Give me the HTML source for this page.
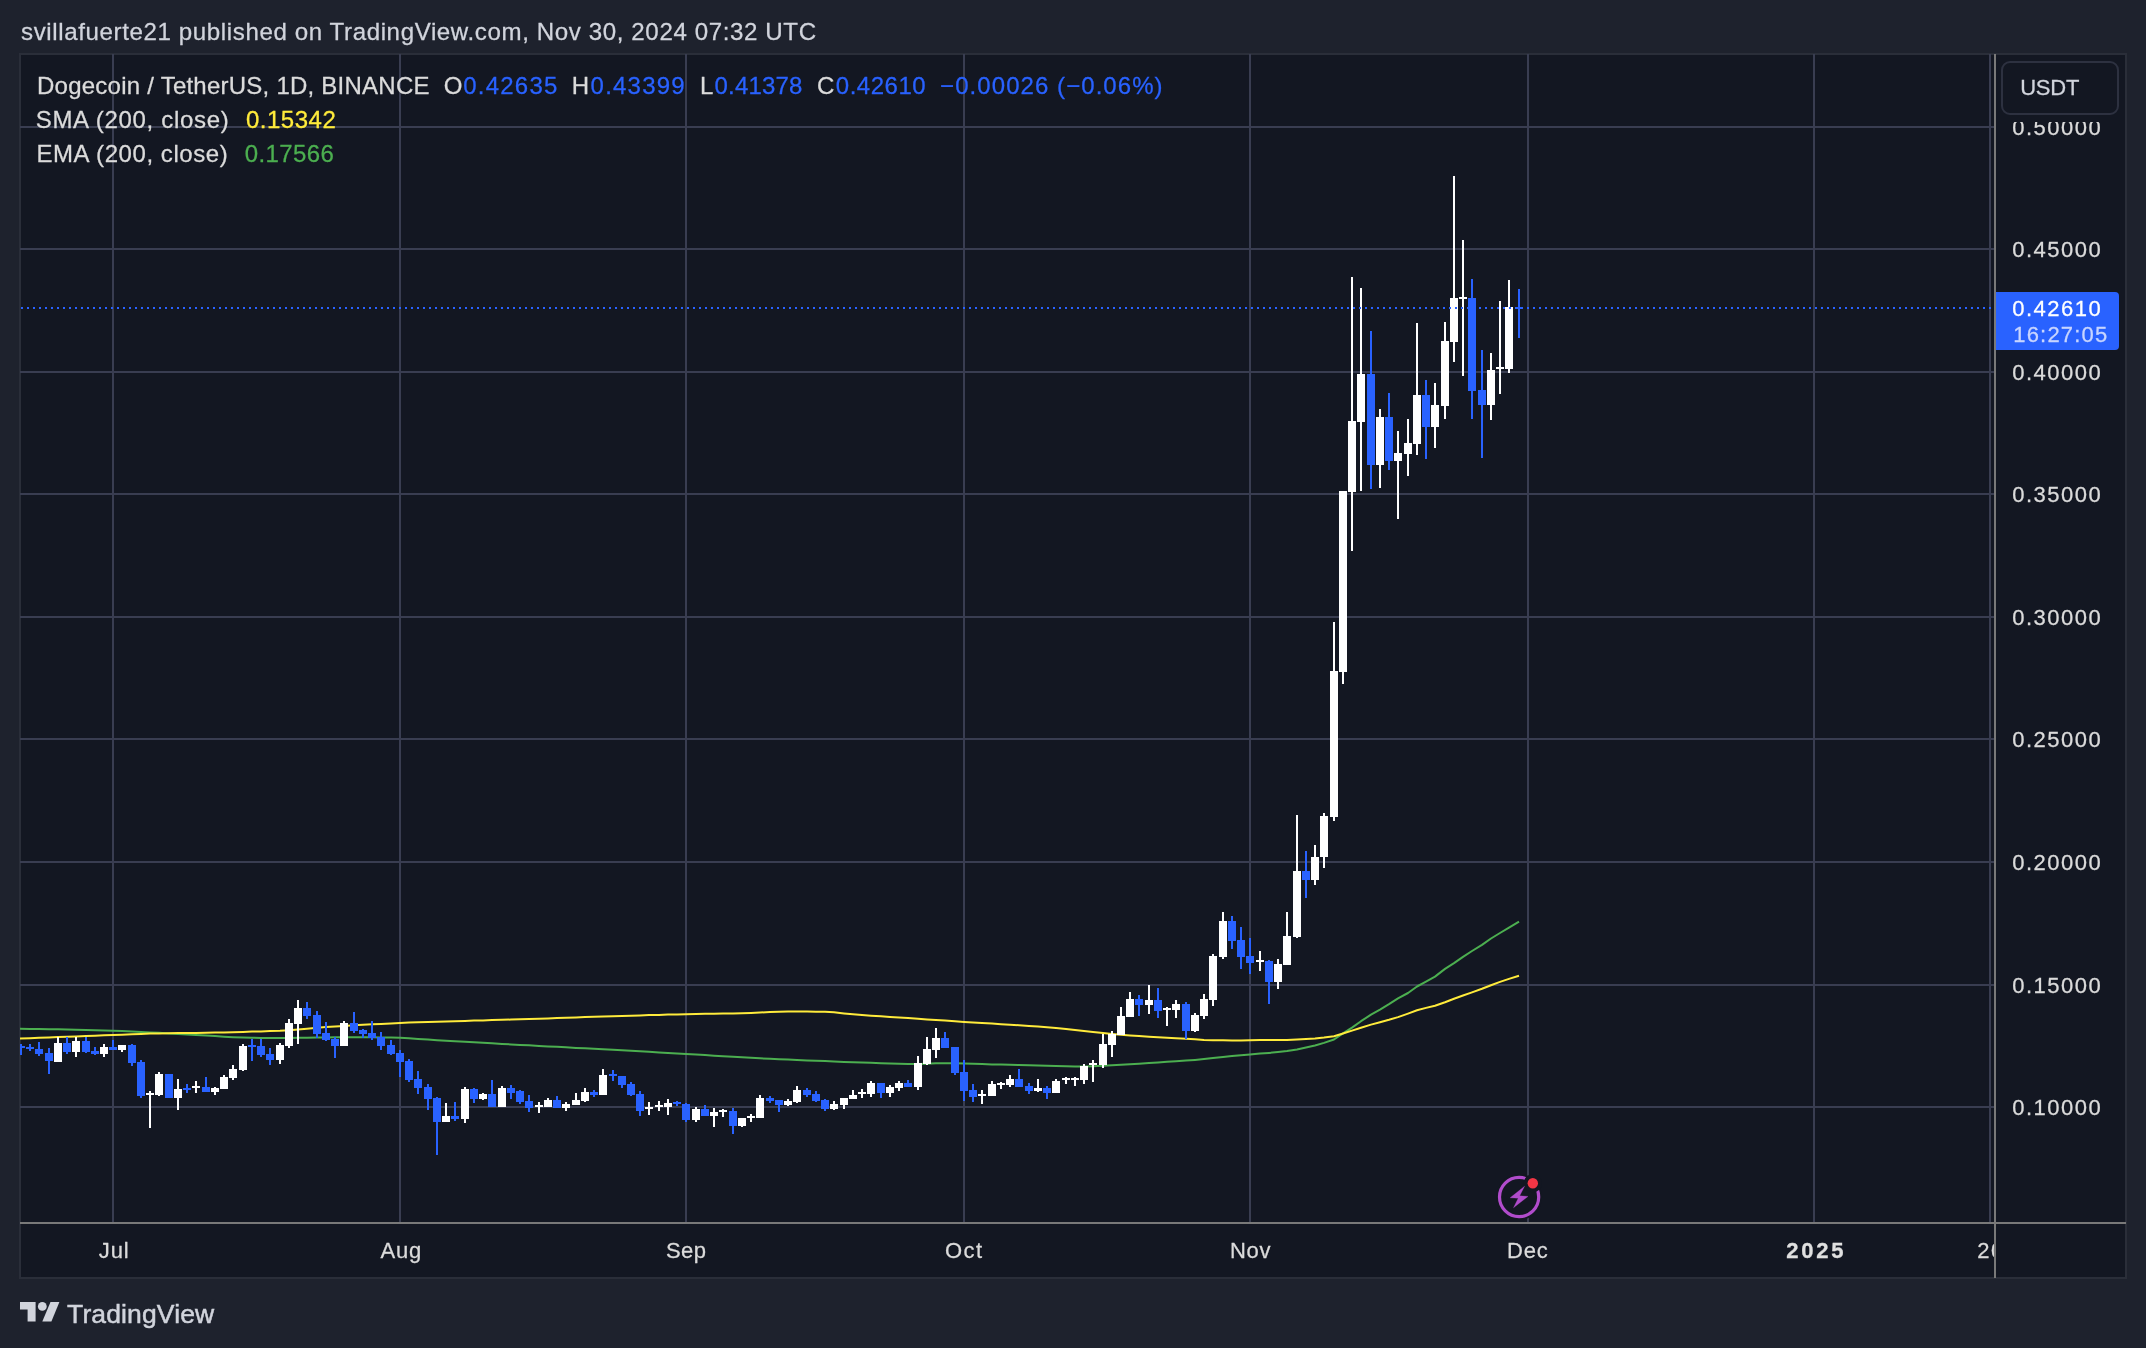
<!DOCTYPE html>
<html><head><meta charset="utf-8"><title>DOGEUSDT</title>
<style>
html,body{margin:0;padding:0;background:#1e222d;}
body{width:2146px;height:1348px;position:relative;overflow:hidden;font-family:"Liberation Sans",sans-serif;color:#d1d4dc;}
.abs{position:absolute;}
.t{position:absolute;white-space:nowrap;-webkit-text-stroke:0.28px currentColor;}
.tl{position:absolute;left:0;top:0;width:2146px;height:1348px;will-change:transform;}
#frame{left:19px;top:53px;width:2104px;height:1222px;border:2px solid #2a2e39;background:#131722;}
#chart{left:0;top:0;}
#usdtmask{left:1997px;top:55px;width:128px;height:66.6px;background:#131722;}
#usdt{left:2001px;top:61px;width:118px;height:54px;border:2px solid #2d3140;border-radius:9px;box-sizing:border-box;}
#ptag{left:1996px;top:292px;width:123px;height:58px;background:#2962ff;border-radius:0 4px 4px 0;}
</style></head><body>
<div class="abs" id="frame"></div>
<svg class="abs" id="chart" width="2146" height="1348" viewBox="0 0 2146 1348" shape-rendering="crispEdges">
<defs><clipPath id="cp"><rect x="20" y="54" width="1974" height="1168"/></clipPath></defs>
<g clip-path="url(#cp)">
<path fill="#393d51" d="M112 54h2v1168h-2zM399 54h2v1168h-2zM685 54h2v1168h-2zM963 54h2v1168h-2zM1249 54h2v1168h-2zM1527 54h2v1168h-2zM1813 54h2v1168h-2zM1989 54h2v1168h-2zM20 126h1974v2h-1974zM20 248h1974v2h-1974zM20 371h1974v2h-1974zM20 493h1974v2h-1974zM20 616h1974v2h-1974zM20 738h1974v2h-1974zM20 861h1974v2h-1974zM20 984h1974v2h-1974zM20 1106h1974v2h-1974z"/>
<path d="M20.0 1028.8 L30.0 1028.9 L39.0 1029.0 L49.0 1029.2 L58.0 1029.3 L67.0 1029.5 L76.0 1029.8 L86.0 1030.0 L95.0 1030.3 L104.0 1030.5 L113.0 1030.8 L122.0 1031.1 L132.0 1031.5 L141.0 1031.9 L150.0 1032.4 L159.0 1032.8 L169.0 1033.4 L178.0 1033.9 L187.0 1034.5 L196.0 1035.0 L206.0 1035.6 L215.0 1036.1 L224.0 1036.7 L233.0 1037.2 L243.0 1037.6 L252.0 1037.8 L261.0 1037.9 L270.0 1038.0 L280.0 1038.0 L289.0 1037.9 L298.0 1037.8 L307.0 1037.7 L317.0 1037.6 L326.0 1037.4 L335.0 1037.3 L344.0 1037.2 L354.0 1037.2 L363.0 1037.3 L372.0 1037.3 L381.0 1037.4 L391.0 1037.6 L400.0 1037.8 L409.0 1038.2 L418.0 1038.9 L428.0 1039.6 L437.0 1040.2 L446.0 1040.8 L455.0 1041.3 L465.0 1041.8 L474.0 1042.3 L483.0 1042.8 L492.0 1043.3 L502.0 1043.9 L511.0 1044.4 L520.0 1044.9 L529.0 1045.3 L539.0 1045.9 L548.0 1046.4 L557.0 1046.8 L566.0 1047.3 L576.0 1047.9 L585.0 1048.3 L594.0 1048.8 L603.0 1049.3 L613.0 1049.8 L622.0 1050.3 L631.0 1050.8 L640.0 1051.3 L649.0 1051.8 L659.0 1052.4 L668.0 1052.9 L677.0 1053.4 L686.0 1053.9 L696.0 1054.5 L705.0 1055.1 L714.0 1055.7 L723.0 1056.2 L733.0 1056.8 L742.0 1057.3 L751.0 1057.8 L760.0 1058.3 L770.0 1058.7 L779.0 1059.2 L788.0 1059.6 L797.0 1060.0 L807.0 1060.4 L816.0 1060.8 L825.0 1061.1 L834.0 1061.5 L844.0 1061.9 L853.0 1062.2 L862.0 1062.5 L871.0 1062.8 L881.0 1063.2 L890.0 1063.5 L899.0 1063.8 L908.0 1064.0 L918.0 1064.0 L927.0 1063.7 L936.0 1063.3 L945.0 1063.2 L955.0 1063.3 L964.0 1063.6 L973.0 1063.8 L982.0 1064.1 L992.0 1064.4 L1001.0 1064.6 L1010.0 1064.8 L1019.0 1065.0 L1029.0 1065.3 L1038.0 1065.5 L1047.0 1065.8 L1056.0 1066.0 L1066.0 1066.3 L1075.0 1066.5 L1084.0 1066.5 L1093.0 1066.2 L1103.0 1065.7 L1112.0 1065.3 L1121.0 1064.8 L1130.0 1064.3 L1139.0 1063.7 L1149.0 1063.0 L1158.0 1062.4 L1167.0 1061.8 L1176.0 1061.3 L1186.0 1060.6 L1195.0 1059.9 L1204.0 1059.0 L1213.0 1058.0 L1223.0 1057.0 L1232.0 1056.1 L1241.0 1055.3 L1250.0 1054.5 L1260.0 1053.6 L1269.0 1052.9 L1278.0 1052.1 L1287.0 1051.1 L1297.0 1049.4 L1306.0 1047.5 L1315.0 1045.5 L1324.0 1042.9 L1334.0 1039.5 L1343.0 1033.4 L1352.0 1027.6 L1361.0 1021.2 L1371.0 1014.7 L1380.0 1009.6 L1389.0 1004.2 L1398.0 998.4 L1408.0 993.0 L1417.0 986.5 L1426.0 981.6 L1435.0 976.6 L1445.0 968.9 L1454.0 963.1 L1463.0 956.9 L1472.0 951.0 L1482.0 944.9 L1491.0 938.5 L1500.0 933.0 L1509.0 927.6 L1519.0 921.6" stroke="#4caf50" stroke-width="2" fill="none" stroke-linejoin="round" stroke-linecap="butt" shape-rendering="geometricPrecision"/>
<path d="M20.0 1038.6 L30.0 1038.2 L39.0 1037.8 L49.0 1037.4 L58.0 1037.1 L67.0 1036.7 L76.0 1036.4 L86.0 1036.0 L95.0 1035.7 L104.0 1035.3 L113.0 1035.0 L122.0 1034.7 L132.0 1034.2 L141.0 1033.9 L150.0 1033.6 L159.0 1033.4 L169.0 1033.2 L178.0 1033.1 L187.0 1033.0 L196.0 1032.9 L206.0 1032.8 L215.0 1032.6 L224.0 1032.4 L233.0 1032.2 L243.0 1031.9 L252.0 1031.6 L261.0 1031.4 L270.0 1031.1 L280.0 1030.8 L289.0 1030.3 L298.0 1029.5 L307.0 1028.7 L317.0 1027.8 L326.0 1027.1 L335.0 1026.5 L344.0 1026.0 L354.0 1025.3 L363.0 1024.8 L372.0 1024.3 L381.0 1023.9 L391.0 1023.4 L400.0 1023.0 L409.0 1022.6 L418.0 1022.3 L428.0 1022.0 L437.0 1021.7 L446.0 1021.4 L455.0 1021.2 L465.0 1020.9 L474.0 1020.6 L483.0 1020.4 L492.0 1020.1 L502.0 1019.8 L511.0 1019.6 L520.0 1019.3 L529.0 1019.0 L539.0 1018.7 L548.0 1018.4 L557.0 1018.1 L566.0 1017.8 L576.0 1017.4 L585.0 1017.1 L594.0 1016.8 L603.0 1016.5 L613.0 1016.2 L622.0 1015.9 L631.0 1015.7 L640.0 1015.4 L649.0 1015.1 L659.0 1014.9 L668.0 1014.6 L677.0 1014.4 L686.0 1014.2 L696.0 1014.0 L705.0 1013.8 L714.0 1013.7 L723.0 1013.5 L733.0 1013.4 L742.0 1013.2 L751.0 1012.9 L760.0 1012.5 L770.0 1012.1 L779.0 1011.8 L788.0 1011.6 L797.0 1011.6 L807.0 1011.6 L816.0 1011.7 L825.0 1011.8 L834.0 1012.3 L844.0 1013.4 L853.0 1014.3 L862.0 1015.0 L871.0 1015.7 L881.0 1016.3 L890.0 1016.9 L899.0 1017.5 L908.0 1018.1 L918.0 1018.8 L927.0 1019.4 L936.0 1020.0 L945.0 1020.6 L955.0 1021.3 L964.0 1021.9 L973.0 1022.5 L982.0 1023.0 L992.0 1023.6 L1001.0 1024.2 L1010.0 1024.7 L1019.0 1025.2 L1029.0 1025.9 L1038.0 1026.5 L1047.0 1027.2 L1056.0 1028.1 L1066.0 1029.1 L1075.0 1030.1 L1084.0 1031.0 L1093.0 1031.9 L1103.0 1033.0 L1112.0 1033.9 L1121.0 1034.8 L1130.0 1035.5 L1139.0 1036.1 L1149.0 1036.7 L1158.0 1037.2 L1167.0 1037.7 L1176.0 1038.2 L1186.0 1038.7 L1195.0 1039.3 L1204.0 1039.9 L1213.0 1040.2 L1223.0 1040.3 L1232.0 1040.4 L1241.0 1040.4 L1250.0 1040.3 L1260.0 1040.1 L1269.0 1039.9 L1278.0 1039.9 L1287.0 1040.0 L1297.0 1039.5 L1306.0 1038.9 L1315.0 1038.4 L1324.0 1037.6 L1334.0 1036.3 L1343.0 1033.5 L1352.0 1030.6 L1361.0 1027.7 L1371.0 1024.6 L1380.0 1022.2 L1389.0 1019.8 L1398.0 1017.1 L1408.0 1013.6 L1417.0 1010.3 L1426.0 1007.9 L1435.0 1005.7 L1445.0 1002.2 L1454.0 998.7 L1463.0 995.5 L1472.0 992.4 L1482.0 988.8 L1491.0 985.2 L1500.0 981.9 L1509.0 978.9 L1519.0 975.7" stroke="#ffeb3b" stroke-width="2" fill="none" stroke-linejoin="round" stroke-linecap="butt" shape-rendering="geometricPrecision"/>
<path fill="#ffffff" d="M57 1037h2v25h-2zM54 1043h8v19h-8zM75 1037h2v20h-2zM72 1041h8v11h-8zM103 1044h2v13h-2zM100 1047h8v7h-8zM121 1045h2v7h-2zM118 1045h8v5h-8zM149 1091h2v37h-2zM146 1093h8v2h-8zM158 1072h2v24h-2zM155 1074h8v21h-8zM177 1079h2v31h-2zM174 1089h8v9h-8zM195 1081h2v12h-2zM192 1086h8v2h-8zM214 1087h2v8h-2zM211 1088h8v4h-8zM223 1075h2v14h-2zM220 1077h8v12h-8zM232 1065h2v15h-2zM229 1069h8v9h-8zM242 1044h2v27h-2zM239 1046h8v24h-8zM279 1043h2v21h-2zM276 1045h8v15h-8zM288 1019h2v29h-2zM285 1023h8v23h-8zM297 1000h2v44h-2zM294 1008h8v16h-8zM343 1021h2v25h-2zM340 1023h8v23h-8zM445 1103h2v19h-2zM442 1116h8v6h-8zM464 1087h2v36h-2zM461 1089h8v30h-8zM482 1093h2v7h-2zM479 1094h8v5h-8zM501 1086h2v21h-2zM498 1088h8v19h-8zM538 1102h2v11h-2zM535 1105h8v2h-8zM547 1098h2v9h-2zM544 1100h8v7h-8zM565 1102h2v9h-2zM562 1104h8v4h-8zM575 1093h2v12h-2zM572 1100h8v5h-8zM584 1088h2v14h-2zM581 1092h8v9h-8zM602 1069h2v26h-2zM599 1075h8v20h-8zM648 1102h2v13h-2zM645 1107h8v2h-8zM658 1101h2v10h-2zM655 1105h8v2h-8zM667 1099h2v16h-2zM664 1103h8v4h-8zM695 1107h2v15h-2zM692 1109h8v11h-8zM713 1108h2v19h-2zM710 1112h8v4h-8zM722 1109h2v8h-2zM719 1110h8v2h-8zM741 1118h2v9h-2zM738 1118h8v8h-8zM750 1114h2v8h-2zM747 1116h8v2h-8zM759 1095h2v23h-2zM756 1098h8v20h-8zM787 1099h2v7h-2zM784 1101h8v4h-8zM796 1086h2v17h-2zM793 1090h8v12h-8zM833 1101h2v9h-2zM830 1104h8v5h-8zM843 1098h2v11h-2zM840 1098h8v7h-8zM852 1090h2v9h-2zM849 1095h8v4h-8zM861 1089h2v9h-2zM858 1092h8v2h-8zM870 1081h2v16h-2zM867 1083h8v11h-8zM889 1085h2v12h-2zM886 1087h8v6h-8zM898 1081h2v10h-2zM895 1083h8v5h-8zM917 1056h2v34h-2zM914 1063h8v24h-8zM926 1037h2v28h-2zM923 1049h8v15h-8zM935 1028h2v30h-2zM932 1038h8v12h-8zM981 1090h2v14h-2zM978 1094h8v2h-8zM991 1081h2v15h-2zM988 1084h8v12h-8zM1000 1082h2v7h-2zM997 1083h8v2h-8zM1009 1075h2v12h-2zM1006 1079h8v6h-8zM1037 1079h2v13h-2zM1034 1088h8v3h-8zM1055 1079h2v14h-2zM1052 1081h8v12h-8zM1065 1077h2v7h-2zM1062 1078h8v2h-8zM1074 1077h2v9h-2zM1071 1078h8v2h-8zM1083 1064h2v20h-2zM1080 1066h8v14h-8zM1092 1060h2v22h-2zM1089 1063h8v2h-8zM1102 1034h2v34h-2zM1099 1044h8v21h-8zM1111 1031h2v26h-2zM1108 1034h8v11h-8zM1120 1007h2v28h-2zM1117 1016h8v19h-8zM1129 992h2v25h-2zM1126 999h8v18h-8zM1148 985h2v29h-2zM1145 1000h8v5h-8zM1166 1007h2v19h-2zM1163 1008h8v2h-8zM1175 1000h2v18h-2zM1172 1004h8v6h-8zM1194 1013h2v19h-2zM1191 1015h8v16h-8zM1203 994h2v25h-2zM1200 999h8v17h-8zM1212 954h2v52h-2zM1209 956h8v44h-8zM1222 912h2v47h-2zM1219 921h8v36h-8zM1259 951h2v20h-2zM1256 960h8v2h-8zM1277 959h2v30h-2zM1274 964h8v18h-8zM1286 912h2v53h-2zM1283 936h8v29h-8zM1296 815h2v123h-2zM1293 871h8v66h-8zM1314 845h2v40h-2zM1311 857h8v23h-8zM1323 813h2v55h-2zM1320 816h8v41h-8zM1333 622h2v199h-2zM1330 671h8v146h-8zM1342 491h2v193h-2zM1339 491h8v181h-8zM1351 277h2v274h-2zM1348 421h8v71h-8zM1360 288h2v203h-2zM1357 374h8v48h-8zM1379 409h2v79h-2zM1376 417h8v48h-8zM1397 431h2v88h-2zM1394 453h8v8h-8zM1407 419h2v57h-2zM1404 443h8v11h-8zM1416 323h2v132h-2zM1413 395h8v49h-8zM1434 383h2v65h-2zM1431 405h8v22h-8zM1444 322h2v97h-2zM1441 341h8v65h-8zM1453 176h2v186h-2zM1450 298h8v44h-8zM1462 240h2v136h-2zM1459 297h8v2h-8zM1490 353h2v67h-2zM1487 370h8v35h-8zM1499 301h2v93h-2zM1496 367h8v2h-8zM1508 280h2v93h-2zM1505 307h8v62h-8z"/>
<path fill="#2962ff" d="M20 1044h2v11h-2zM17 1046h8v2h-8zM29 1044h2v7h-2zM26 1047h8v2h-8zM38 1042h2v14h-2zM35 1049h8v5h-8zM48 1048h2v26h-2zM45 1053h8v8h-8zM66 1037h2v17h-2zM63 1043h8v9h-8zM85 1037h2v16h-2zM82 1041h8v11h-8zM94 1047h2v8h-2zM91 1051h8v3h-8zM112 1040h2v10h-2zM109 1047h8v3h-8zM131 1044h2v22h-2zM128 1045h8v18h-8zM140 1060h2v38h-2zM137 1062h8v34h-8zM168 1074h2v24h-2zM165 1074h8v24h-8zM186 1084h2v9h-2zM183 1088h8v2h-8zM205 1077h2v15h-2zM202 1087h8v5h-8zM251 1039h2v22h-2zM248 1045h8v2h-8zM260 1039h2v18h-2zM257 1046h8v9h-8zM269 1048h2v17h-2zM266 1054h8v6h-8zM306 1002h2v17h-2zM303 1008h8v8h-8zM316 1011h2v27h-2zM313 1015h8v19h-8zM325 1022h2v19h-2zM322 1033h8v7h-8zM334 1037h2v21h-2zM331 1039h8v7h-8zM353 1012h2v21h-2zM350 1023h8v8h-8zM362 1029h2v9h-2zM359 1030h8v4h-8zM371 1021h2v19h-2zM368 1033h8v5h-8zM380 1032h2v18h-2zM377 1037h8v9h-8zM390 1040h2v15h-2zM387 1045h8v9h-8zM399 1050h2v27h-2zM396 1053h8v9h-8zM408 1059h2v23h-2zM405 1061h8v19h-8zM417 1071h2v23h-2zM414 1079h8v9h-8zM427 1084h2v26h-2zM424 1087h8v12h-8zM436 1097h2v58h-2zM433 1098h8v24h-8zM454 1102h2v19h-2zM451 1116h8v3h-8zM473 1088h2v15h-2zM470 1089h8v10h-8zM491 1080h2v27h-2zM488 1094h8v13h-8zM510 1085h2v14h-2zM507 1088h8v5h-8zM519 1090h2v14h-2zM516 1091h8v11h-8zM528 1095h2v17h-2zM525 1101h8v7h-8zM556 1096h2v12h-2zM553 1100h8v8h-8zM593 1090h2v7h-2zM590 1092h8v3h-8zM612 1070h2v11h-2zM609 1074h8v2h-8zM621 1076h2v12h-2zM618 1076h8v9h-8zM630 1082h2v14h-2zM627 1084h8v11h-8zM639 1091h2v25h-2zM636 1094h8v17h-8zM676 1101h2v5h-2zM673 1102h8v2h-8zM685 1103h2v19h-2zM682 1104h8v16h-8zM704 1105h2v11h-2zM701 1109h8v7h-8zM732 1108h2v26h-2zM729 1111h8v15h-8zM769 1096h2v7h-2zM766 1098h8v3h-8zM778 1100h2v12h-2zM775 1100h8v5h-8zM806 1088h2v9h-2zM803 1090h8v5h-8zM815 1091h2v11h-2zM812 1094h8v7h-8zM824 1099h2v12h-2zM821 1100h8v9h-8zM880 1083h2v15h-2zM877 1083h8v10h-8zM907 1080h2v7h-2zM904 1083h8v4h-8zM944 1032h2v16h-2zM941 1038h8v10h-8zM954 1047h2v28h-2zM951 1047h8v26h-8zM963 1060h2v41h-2zM960 1072h8v19h-8zM972 1084h2v18h-2zM969 1090h8v7h-8zM1018 1069h2v18h-2zM1015 1079h8v8h-8zM1028 1083h2v11h-2zM1025 1086h8v5h-8zM1046 1086h2v13h-2zM1043 1088h8v5h-8zM1138 995h2v21h-2zM1135 999h8v6h-8zM1157 988h2v30h-2zM1154 1000h8v11h-8zM1185 1002h2v37h-2zM1182 1004h8v27h-8zM1231 916h2v33h-2zM1228 921h8v20h-8zM1240 927h2v42h-2zM1237 940h8v17h-8zM1249 938h2v36h-2zM1246 956h8v7h-8zM1268 960h2v44h-2zM1265 961h8v21h-8zM1305 851h2v47h-2zM1302 871h8v9h-8zM1370 331h2v158h-2zM1367 374h8v91h-8zM1388 393h2v77h-2zM1385 417h8v44h-8zM1425 380h2v79h-2zM1422 395h8v32h-8zM1471 279h2v140h-2zM1468 298h8v93h-8zM1481 350h2v108h-2zM1478 390h8v15h-8zM1518 289h2v49h-2zM1515 307h8v2h-8z"/>
<path fill="#2962ff" d="M21 307h2v2h-2zM27 307h2v2h-2zM33 307h2v2h-2zM39 307h2v2h-2zM45 307h2v2h-2zM51 307h2v2h-2zM57 307h2v2h-2zM63 307h2v2h-2zM69 307h2v2h-2zM75 307h2v2h-2zM81 307h2v2h-2zM87 307h2v2h-2zM93 307h2v2h-2zM99 307h2v2h-2zM105 307h2v2h-2zM111 307h2v2h-2zM117 307h2v2h-2zM123 307h2v2h-2zM129 307h2v2h-2zM135 307h2v2h-2zM141 307h2v2h-2zM147 307h2v2h-2zM153 307h2v2h-2zM159 307h2v2h-2zM165 307h2v2h-2zM171 307h2v2h-2zM177 307h2v2h-2zM183 307h2v2h-2zM189 307h2v2h-2zM195 307h2v2h-2zM201 307h2v2h-2zM207 307h2v2h-2zM213 307h2v2h-2zM219 307h2v2h-2zM225 307h2v2h-2zM231 307h2v2h-2zM237 307h2v2h-2zM243 307h2v2h-2zM249 307h2v2h-2zM255 307h2v2h-2zM261 307h2v2h-2zM267 307h2v2h-2zM273 307h2v2h-2zM279 307h2v2h-2zM285 307h2v2h-2zM291 307h2v2h-2zM297 307h2v2h-2zM303 307h2v2h-2zM309 307h2v2h-2zM315 307h2v2h-2zM321 307h2v2h-2zM327 307h2v2h-2zM333 307h2v2h-2zM339 307h2v2h-2zM345 307h2v2h-2zM351 307h2v2h-2zM357 307h2v2h-2zM363 307h2v2h-2zM369 307h2v2h-2zM375 307h2v2h-2zM381 307h2v2h-2zM387 307h2v2h-2zM393 307h2v2h-2zM399 307h2v2h-2zM405 307h2v2h-2zM411 307h2v2h-2zM417 307h2v2h-2zM423 307h2v2h-2zM429 307h2v2h-2zM435 307h2v2h-2zM441 307h2v2h-2zM447 307h2v2h-2zM453 307h2v2h-2zM459 307h2v2h-2zM465 307h2v2h-2zM471 307h2v2h-2zM477 307h2v2h-2zM483 307h2v2h-2zM489 307h2v2h-2zM495 307h2v2h-2zM501 307h2v2h-2zM507 307h2v2h-2zM513 307h2v2h-2zM519 307h2v2h-2zM525 307h2v2h-2zM531 307h2v2h-2zM537 307h2v2h-2zM543 307h2v2h-2zM549 307h2v2h-2zM555 307h2v2h-2zM561 307h2v2h-2zM567 307h2v2h-2zM573 307h2v2h-2zM579 307h2v2h-2zM585 307h2v2h-2zM591 307h2v2h-2zM597 307h2v2h-2zM603 307h2v2h-2zM609 307h2v2h-2zM615 307h2v2h-2zM621 307h2v2h-2zM627 307h2v2h-2zM633 307h2v2h-2zM639 307h2v2h-2zM645 307h2v2h-2zM651 307h2v2h-2zM657 307h2v2h-2zM663 307h2v2h-2zM669 307h2v2h-2zM675 307h2v2h-2zM681 307h2v2h-2zM687 307h2v2h-2zM693 307h2v2h-2zM699 307h2v2h-2zM705 307h2v2h-2zM711 307h2v2h-2zM717 307h2v2h-2zM723 307h2v2h-2zM729 307h2v2h-2zM735 307h2v2h-2zM741 307h2v2h-2zM747 307h2v2h-2zM753 307h2v2h-2zM759 307h2v2h-2zM765 307h2v2h-2zM771 307h2v2h-2zM777 307h2v2h-2zM783 307h2v2h-2zM789 307h2v2h-2zM795 307h2v2h-2zM801 307h2v2h-2zM807 307h2v2h-2zM813 307h2v2h-2zM819 307h2v2h-2zM825 307h2v2h-2zM831 307h2v2h-2zM837 307h2v2h-2zM843 307h2v2h-2zM849 307h2v2h-2zM855 307h2v2h-2zM861 307h2v2h-2zM867 307h2v2h-2zM873 307h2v2h-2zM879 307h2v2h-2zM885 307h2v2h-2zM891 307h2v2h-2zM897 307h2v2h-2zM903 307h2v2h-2zM909 307h2v2h-2zM915 307h2v2h-2zM921 307h2v2h-2zM927 307h2v2h-2zM933 307h2v2h-2zM939 307h2v2h-2zM945 307h2v2h-2zM951 307h2v2h-2zM957 307h2v2h-2zM963 307h2v2h-2zM969 307h2v2h-2zM975 307h2v2h-2zM981 307h2v2h-2zM987 307h2v2h-2zM993 307h2v2h-2zM999 307h2v2h-2zM1005 307h2v2h-2zM1011 307h2v2h-2zM1017 307h2v2h-2zM1023 307h2v2h-2zM1029 307h2v2h-2zM1035 307h2v2h-2zM1041 307h2v2h-2zM1047 307h2v2h-2zM1053 307h2v2h-2zM1059 307h2v2h-2zM1065 307h2v2h-2zM1071 307h2v2h-2zM1077 307h2v2h-2zM1083 307h2v2h-2zM1089 307h2v2h-2zM1095 307h2v2h-2zM1101 307h2v2h-2zM1107 307h2v2h-2zM1113 307h2v2h-2zM1119 307h2v2h-2zM1125 307h2v2h-2zM1131 307h2v2h-2zM1137 307h2v2h-2zM1143 307h2v2h-2zM1149 307h2v2h-2zM1155 307h2v2h-2zM1161 307h2v2h-2zM1167 307h2v2h-2zM1173 307h2v2h-2zM1179 307h2v2h-2zM1185 307h2v2h-2zM1191 307h2v2h-2zM1197 307h2v2h-2zM1203 307h2v2h-2zM1209 307h2v2h-2zM1215 307h2v2h-2zM1221 307h2v2h-2zM1227 307h2v2h-2zM1233 307h2v2h-2zM1239 307h2v2h-2zM1245 307h2v2h-2zM1251 307h2v2h-2zM1257 307h2v2h-2zM1263 307h2v2h-2zM1269 307h2v2h-2zM1275 307h2v2h-2zM1281 307h2v2h-2zM1287 307h2v2h-2zM1293 307h2v2h-2zM1299 307h2v2h-2zM1305 307h2v2h-2zM1311 307h2v2h-2zM1317 307h2v2h-2zM1323 307h2v2h-2zM1329 307h2v2h-2zM1335 307h2v2h-2zM1341 307h2v2h-2zM1347 307h2v2h-2zM1353 307h2v2h-2zM1359 307h2v2h-2zM1365 307h2v2h-2zM1371 307h2v2h-2zM1377 307h2v2h-2zM1383 307h2v2h-2zM1389 307h2v2h-2zM1395 307h2v2h-2zM1401 307h2v2h-2zM1407 307h2v2h-2zM1413 307h2v2h-2zM1419 307h2v2h-2zM1425 307h2v2h-2zM1431 307h2v2h-2zM1437 307h2v2h-2zM1443 307h2v2h-2zM1449 307h2v2h-2zM1455 307h2v2h-2zM1461 307h2v2h-2zM1467 307h2v2h-2zM1473 307h2v2h-2zM1479 307h2v2h-2zM1485 307h2v2h-2zM1491 307h2v2h-2zM1497 307h2v2h-2zM1503 307h2v2h-2zM1509 307h2v2h-2zM1515 307h2v2h-2zM1521 307h2v2h-2zM1527 307h2v2h-2zM1533 307h2v2h-2zM1539 307h2v2h-2zM1545 307h2v2h-2zM1551 307h2v2h-2zM1557 307h2v2h-2zM1563 307h2v2h-2zM1569 307h2v2h-2zM1575 307h2v2h-2zM1581 307h2v2h-2zM1587 307h2v2h-2zM1593 307h2v2h-2zM1599 307h2v2h-2zM1605 307h2v2h-2zM1611 307h2v2h-2zM1617 307h2v2h-2zM1623 307h2v2h-2zM1629 307h2v2h-2zM1635 307h2v2h-2zM1641 307h2v2h-2zM1647 307h2v2h-2zM1653 307h2v2h-2zM1659 307h2v2h-2zM1665 307h2v2h-2zM1671 307h2v2h-2zM1677 307h2v2h-2zM1683 307h2v2h-2zM1689 307h2v2h-2zM1695 307h2v2h-2zM1701 307h2v2h-2zM1707 307h2v2h-2zM1713 307h2v2h-2zM1719 307h2v2h-2zM1725 307h2v2h-2zM1731 307h2v2h-2zM1737 307h2v2h-2zM1743 307h2v2h-2zM1749 307h2v2h-2zM1755 307h2v2h-2zM1761 307h2v2h-2zM1767 307h2v2h-2zM1773 307h2v2h-2zM1779 307h2v2h-2zM1785 307h2v2h-2zM1791 307h2v2h-2zM1797 307h2v2h-2zM1803 307h2v2h-2zM1809 307h2v2h-2zM1815 307h2v2h-2zM1821 307h2v2h-2zM1827 307h2v2h-2zM1833 307h2v2h-2zM1839 307h2v2h-2zM1845 307h2v2h-2zM1851 307h2v2h-2zM1857 307h2v2h-2zM1863 307h2v2h-2zM1869 307h2v2h-2zM1875 307h2v2h-2zM1881 307h2v2h-2zM1887 307h2v2h-2zM1893 307h2v2h-2zM1899 307h2v2h-2zM1905 307h2v2h-2zM1911 307h2v2h-2zM1917 307h2v2h-2zM1923 307h2v2h-2zM1929 307h2v2h-2zM1935 307h2v2h-2zM1941 307h2v2h-2zM1947 307h2v2h-2zM1953 307h2v2h-2zM1959 307h2v2h-2zM1965 307h2v2h-2zM1971 307h2v2h-2zM1977 307h2v2h-2zM1983 307h2v2h-2zM1989 307h2v2h-2z"/>
<g shape-rendering="geometricPrecision"><circle cx="1519.1" cy="1197.05" r="23" fill="#131722"/><circle cx="1532.8" cy="1183.2" r="9.1" fill="#131722"/><mask id="mk"><rect x="1490" y="1165" width="60" height="60" fill="#fff"/><circle cx="1532.8" cy="1183.2" r="9.1" fill="#000"/></mask><circle cx="1519.1" cy="1197.05" r="19.6" fill="none" stroke="#b14ccc" stroke-width="3.2" mask="url(#mk)"/><path d="M1524.6 1186.2 L1510.1 1197.8 L1518.2 1198.2 L1513.5 1207.8 L1528 1196.4 L1519.7 1195.8 Z" fill="#b14ccc" stroke="#b14ccc" stroke-width="0.3" stroke-linejoin="round"/><circle cx="1532.8" cy="1183.2" r="5.2" fill="#f23645"/></g>
</g>
<rect x="20" y="1222" width="2106" height="2" fill="#797979"/>
<rect x="1994" y="54" width="2" height="1224" fill="#797979"/>
<g fill="#d1d4dc" shape-rendering="geometricPrecision"><path d="M20 1302h15.6v19.6h-8v-12.2h-7.6z"/><circle cx="42.3" cy="1306.4" r="4.4"/><path d="M50.5 1302h8.9l-8 19.6h-9.1z"/></g>
</svg>
<div id="ta" class="tl"><div class="t" style="left:21.00px;top:19.70px;font-size:24.1px;line-height:24.1px;letter-spacing:0.608px;color:#d1d4dc;">svillafuerte21 published on TradingView.com, Nov 30, 2024 07:32 UTC</div>
<div class="t" style="left:37.05px;top:73.58px;font-size:24px;line-height:24px;letter-spacing:0.238px;color:#dbdbdb;">Dogecoin / TetherUS, 1D, BINANCE</div>
<div class="t" style="left:443.80px;top:73.58px;font-size:24px;line-height:24px;letter-spacing:0px;color:#dbdbdb;">O</div>
<div class="t" style="left:463.20px;top:73.58px;font-size:24px;line-height:24px;letter-spacing:1.232px;color:#2962ff;">0.42635</div>
<div class="t" style="left:571.80px;top:73.58px;font-size:24px;line-height:24px;letter-spacing:0px;color:#dbdbdb;">H</div>
<div class="t" style="left:590.60px;top:73.58px;font-size:24px;line-height:24px;letter-spacing:1.216px;color:#2962ff;">0.43399</div>
<div class="t" style="left:700.00px;top:73.58px;font-size:24px;line-height:24px;letter-spacing:0px;color:#dbdbdb;">L</div>
<div class="t" style="left:714.50px;top:73.58px;font-size:24px;line-height:24px;letter-spacing:0.199px;color:#2962ff;">0.41378</div>
<div class="t" style="left:817.10px;top:73.58px;font-size:24px;line-height:24px;letter-spacing:0px;color:#dbdbdb;">C</div>
<div class="t" style="left:835.80px;top:73.58px;font-size:24px;line-height:24px;letter-spacing:0.516px;color:#2962ff;">0.42610</div>
<div class="t" style="left:940.10px;top:73.58px;font-size:24px;line-height:24px;letter-spacing:1.063px;color:#2962ff;">−0.00026 (−0.06%)</div>
<div class="t" style="left:35.70px;top:107.58px;font-size:24px;line-height:24px;letter-spacing:0.688px;color:#dbdbdb;">SMA (200, close)</div>
<div class="t" style="left:245.90px;top:107.58px;font-size:24px;line-height:24px;letter-spacing:0.516px;color:#ffeb3b;">0.15342</div>
<div class="t" style="left:36.50px;top:141.58px;font-size:24px;line-height:24px;letter-spacing:0.562px;color:#dbdbdb;">EMA (200, close)</div>
<div class="t" style="left:244.70px;top:141.58px;font-size:24px;line-height:24px;letter-spacing:0.399px;color:#4caf50;">0.17566</div>
<div class="t" style="left:2012.20px;top:117.08px;font-size:22px;line-height:22px;letter-spacing:1.485px;color:#dbdbdb;">0.50000</div>
<div class="t" style="left:2012.20px;top:239.08px;font-size:22px;line-height:22px;letter-spacing:1.485px;color:#dbdbdb;">0.45000</div>
<div class="t" style="left:2012.20px;top:362.08px;font-size:22px;line-height:22px;letter-spacing:1.485px;color:#dbdbdb;">0.40000</div>
<div class="t" style="left:2012.20px;top:484.08px;font-size:22px;line-height:22px;letter-spacing:1.485px;color:#dbdbdb;">0.35000</div>
<div class="t" style="left:2012.20px;top:607.08px;font-size:22px;line-height:22px;letter-spacing:1.485px;color:#dbdbdb;">0.30000</div>
<div class="t" style="left:2012.20px;top:729.08px;font-size:22px;line-height:22px;letter-spacing:1.485px;color:#dbdbdb;">0.25000</div>
<div class="t" style="left:2012.20px;top:852.08px;font-size:22px;line-height:22px;letter-spacing:1.485px;color:#dbdbdb;">0.20000</div>
<div class="t" style="left:2012.20px;top:975.08px;font-size:22px;line-height:22px;letter-spacing:1.485px;color:#dbdbdb;">0.15000</div>
<div class="t" style="left:2012.20px;top:1097.08px;font-size:22px;line-height:22px;letter-spacing:1.485px;color:#dbdbdb;">0.10000</div></div>
<div class="abs" id="usdtmask"></div>
<div class="abs" id="usdt"></div>
<div class="abs" id="ptag"></div>
<div id="tb" class="tl"><div class="t" style="left:2020.20px;top:76.58px;font-size:22px;line-height:22px;letter-spacing:-0.216px;color:#d1d4dc;">USDT</div>
<div class="t" style="left:2012.20px;top:298.08px;font-size:22px;line-height:22px;letter-spacing:1.485px;color:#ffffff;">0.42610</div>
<div class="t" style="left:2013.30px;top:324.28px;font-size:22px;line-height:22px;letter-spacing:1.171px;color:#c8d5ff;">16:27:05</div>
<div class="t" style="left:98.80px;top:1239.58px;font-size:22px;line-height:22px;letter-spacing:0.832px;color:#dbdbdb;">Jul</div>
<div class="t" style="left:380.60px;top:1239.58px;font-size:22px;line-height:22px;letter-spacing:0.745px;color:#dbdbdb;">Aug</div>
<div class="t" style="left:666.00px;top:1239.58px;font-size:22px;line-height:22px;letter-spacing:0.395px;color:#dbdbdb;">Sep</div>
<div class="t" style="left:944.90px;top:1239.58px;font-size:22px;line-height:22px;letter-spacing:1.494px;color:#dbdbdb;">Oct</div>
<div class="t" style="left:1230.00px;top:1239.58px;font-size:22px;line-height:22px;letter-spacing:0.638px;color:#dbdbdb;">Nov</div>
<div class="t" style="left:1507.10px;top:1239.58px;font-size:22px;line-height:22px;letter-spacing:0.788px;color:#dbdbdb;">Dec</div>
<div class="t" style="left:1786.20px;top:1239.98px;font-size:22px;line-height:22px;letter-spacing:2.798px;color:#e0e0e0;font-weight:bold;">2025</div>
<div class="t" style="left:1977.30px;top:1239.58px;font-size:22px;line-height:22px;letter-spacing:1.4px;color:#dbdbdb;width:16.70px;overflow:hidden;">20</div>
<div class="t" style="left:67.10px;top:1300.87px;font-size:26.5px;line-height:26.5px;letter-spacing:0.121px;color:#d1d4dc;-webkit-text-stroke:0.5px currentColor;">TradingView</div></div>
</body></html>
